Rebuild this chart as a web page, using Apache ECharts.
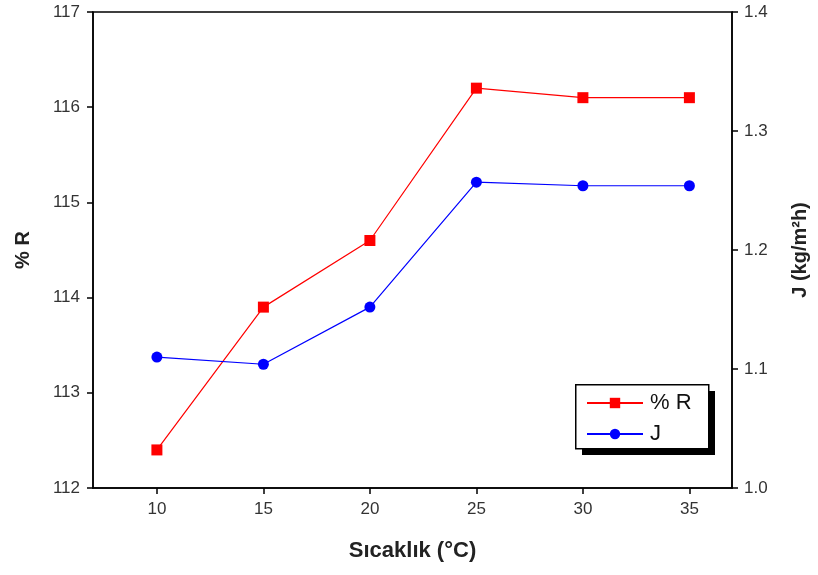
<!DOCTYPE html>
<html>
<head>
<meta charset="utf-8">
<script src="https://cdn.jsdelivr.net/npm/echarts@6/dist/echarts.min.js"></script>
<style>
  html, body { margin: 0; padding: 0; background: #fff; }
  #chart { width: 818px; height: 575px; }
</style>
</head>
<body>
<div id="chart"></div>
<script>
// Temperature (°C) on the x axis
const temperatures = [10, 15, 20, 25, 30, 35];
// % R values (left axis)
const rejection = [112.4, 113.9, 114.6, 116.2, 116.1, 116.1];
// J flux values, kg/m²h (right axis)
const flux = [1.110, 1.104, 1.152, 1.257, 1.254, 1.254];
// Tick positions on the x axis
const xTicks = [10, 15, 20, 25, 30, 35];

const font = 'Liberation Sans, Arial, sans-serif';
const axisBlack = { lineStyle: { color: '#000', width: 1.5 } };
const tickStyle = { show: true, length: 6, lineStyle: { color: '#000', width: 1.5 } };
const tickLabel = { fontFamily: font, fontSize: 17, color: '#333' };
const titleStyle = { fontFamily: font, fontWeight: 'bold', color: '#222' };

const chart = echarts.init(document.getElementById('chart'), null, { renderer: 'canvas' });

chart.setOption({
  animation: false,
  backgroundColor: '#fff',
  grid: {
    left: 93, right: 80, top: 12, bottom: 87,
    show: true, borderColor: '#000', borderWidth: 1.5, backgroundColor: 'transparent'
  },
  // Legend frame with a solid drop shadow
  graphic: [
    { type: 'rect', left: 582, top: 391, z: 0,
      shape: { width: 133, height: 64 }, style: { fill: '#000' } },
    { type: 'rect', left: 575, top: 384, z: 1,
      shape: { width: 133, height: 64 }, style: { fill: '#fff', stroke: '#000', lineWidth: 1.5 } }
  ],
  legend: {
    left: 576, top: 390,
    orient: 'vertical',
    itemWidth: 56, itemHeight: 13, itemGap: 9,
    padding: [2, 4, 2, 10],
    textStyle: { fontFamily: font, fontSize: 22, color: '#111', padding: [0, 0, 0, 2] },
    data: ['% R', 'J']
  },
  xAxis: {
    type: 'value', min: 7, max: 37,
    name: 'Sıcaklık (°C)', nameLocation: 'middle', nameGap: 52,
    nameTextStyle: { ...titleStyle, fontSize: 22 },
    axisLine: axisBlack,
    axisTick: { ...tickStyle, customValues: xTicks },
    axisLabel: { ...tickLabel, customValues: xTicks, margin: 13 },
    splitLine: { show: false }
  },
  yAxis: [
    {
      type: 'value', min: 112, max: 117, interval: 1, position: 'left',
      name: '% R', nameLocation: 'middle', nameGap: 60, nameRotate: 90,
      nameTextStyle: { ...titleStyle, fontSize: 20 },
      axisLine: { show: true, ...axisBlack },
      axisTick: tickStyle,
      axisLabel: { ...tickLabel, margin: 13 },
      splitLine: { show: false }
    },
    {
      type: 'value', min: 1.0, max: 1.4, interval: 0.1, position: 'right',
      name: 'J (kg/m²h)', nameLocation: 'middle', nameGap: 58, nameRotate: 90,
      nameTextStyle: { ...titleStyle, fontSize: 20 },
      axisLine: { show: true, ...axisBlack },
      axisTick: tickStyle,
      axisLabel: { ...tickLabel, margin: 12, formatter: v => v.toFixed(1) },
      splitLine: { show: false }
    }
  ],
  series: [
    {
      name: '% R', type: 'line', yAxisIndex: 0,
      data: temperatures.map((t, i) => [t, rejection[i]]),
      symbol: 'rect', symbolSize: 11,
      itemStyle: { color: '#ff0000' },
      lineStyle: { color: '#ff0000', width: 1.2 }
    },
    {
      name: 'J', type: 'line', yAxisIndex: 1,
      data: temperatures.map((t, i) => [t, flux[i]]),
      symbol: 'circle', symbolSize: 11,
      itemStyle: { color: '#0000ff' },
      lineStyle: { color: '#0000ff', width: 1.2 }
    }
  ]
});
</script>
</body>
</html>
